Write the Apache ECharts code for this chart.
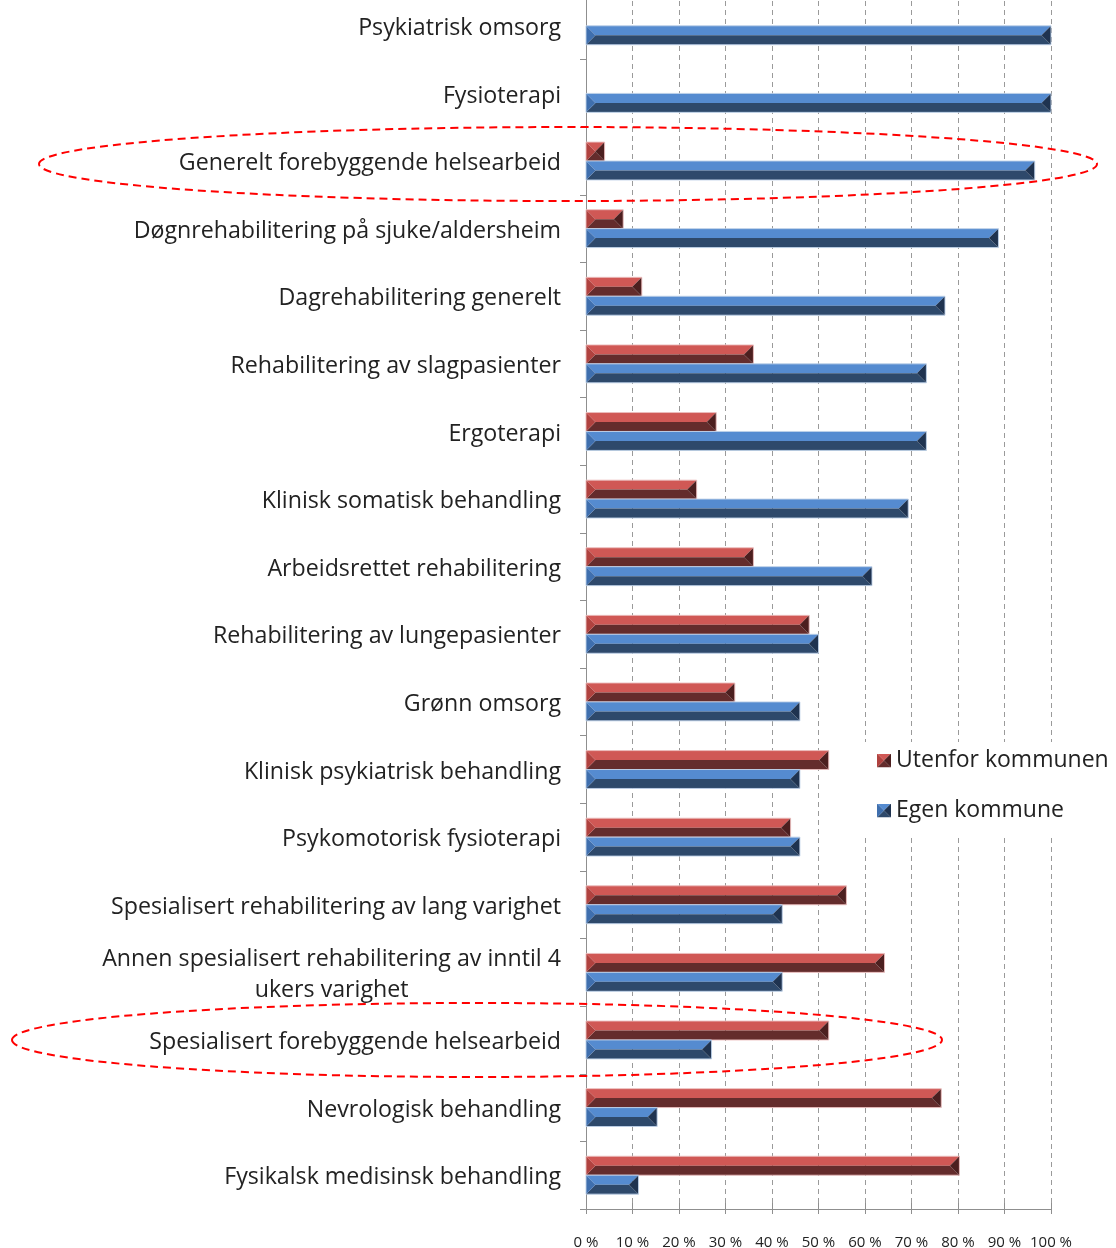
<!DOCTYPE html>
<html><head><meta charset="utf-8">
<script src="https://cdn.jsdelivr.net/npm/echarts@6/dist/echarts.min.js"></script>
<style>html,body{margin:0;padding:0;background:#fff}#c{width:1116px;height:1248px}</style>
</head><body><div id="c"></div>
<script>
const categories = [
  'Psykiatrisk omsorg',
  'Fysioterapi',
  'Generelt forebyggende helsearbeid',
  'Døgnrehabilitering på sjuke/aldersheim',
  'Dagrehabilitering generelt',
  'Rehabilitering av slagpasienter',
  'Ergoterapi',
  'Klinisk somatisk behandling',
  'Arbeidsrettet rehabilitering',
  'Rehabilitering av lungepasienter',
  'Grønn omsorg',
  'Klinisk psykiatrisk behandling',
  'Psykomotorisk fysioterapi',
  'Spesialisert rehabilitering av lang varighet',
  'Annen spesialisert rehabilitering av inntil 4\nukers varighet',
  'Spesialisert forebyggende helsearbeid',
  'Nevrologisk behandling',
  'Fysikalsk medisinsk behandling'
];
const seriesNames = ['Utenfor kommunen', 'Egen kommune'];
const utenfor = [0, 0, 4, 8, 12, 36, 28, 23.8, 36, 48, 32, 52.2, 44, 56, 64.2, 52.2, 76.4, 80.3];
const egen = [100, 100, 96.5, 88.7, 77.2, 73.2, 73.2, 69.3, 61.5, 50, 46, 46, 46, 42.2, 42.2, 27, 15.3, 11.3];
const xTickValues = [0, 10, 20, 30, 40, 50, 60, 70, 80, 90, 100];
const highlighted = ['Generelt forebyggende helsearbeid', 'Spesialisert forebyggende helsearbeid'];

const FONT = 'Open Sans';
const palRed = {top:'#D05855', bottom:'#642C2C', left:'#B0423F', right:'#4C1F1F', edge:'rgba(235,190,190,0.9)'};
const palBlue = {top:'#558BD0', bottom:'#2E496B', left:'#3F6FAE', right:'#1F3350', edge:'rgba(190,208,232,0.9)'};

function iconSvg(p) {
  const s = "<svg xmlns='http://www.w3.org/2000/svg' width='14' height='14'>" +
    "<polygon points='0,0 14,0 7,7' fill='" + p.top + "'/>" +
    "<polygon points='0,14 14,14 7,7' fill='" + p.bottom + "'/>" +
    "<polygon points='0,0 7,7 0,14' fill='" + p.left + "'/>" +
    "<polygon points='14,0 14,14 7,7' fill='" + p.right + "'/></svg>";
  return 'image://data:image/svg+xml;charset=utf-8,' + encodeURIComponent(s);
}

function bevelRenderer(slot, pal) {
  return function (params, api) {
    const v = api.value(0), ci = api.value(1);
    if (!v) return;
    const p0 = api.coord([0, ci]), p1 = api.coord([v, ci]);
    const band = api.size([0, 1])[1];
    const h = band * 0.28;
    const y0 = p0[1] + (slot - 1) * h, y1 = y0 + h, ym = y0 + h / 2;
    const x0 = p0[0], x1 = p1[0];
    const b = Math.min(h / 2, (x1 - x0) / 2);
    return {type: 'group', children: [
      {type: 'polygon', shape: {points: [[x0, y0], [x1, y0], [x1 - b, ym], [x0 + b, ym]]}, style: {fill: pal.top}},
      {type: 'polygon', shape: {points: [[x0 + b, ym], [x1 - b, ym], [x1, y1], [x0, y1]]}, style: {fill: pal.bottom}},
      {type: 'polygon', shape: {points: [[x0, y0], [x0 + b, ym], [x0, y1]]}, style: {fill: pal.left}},
      {type: 'polygon', shape: {points: [[x1, y0], [x1, y1], [x1 - b, ym]]}, style: {fill: pal.right}},
      {type: 'rect', shape: {x: x0, y: y0, width: x1 - x0, height: h}, style: {fill: 'none', stroke: pal.edge, lineWidth: 1}}
    ]};
  };
}

const chart = echarts.init(document.getElementById('c'), null, {renderer: 'canvas'});
const axisGray = '#8f8f8f';
const option = {
  backgroundColor: '#fff',
  animation: false,
  textStyle: {fontFamily: FONT},
  grid: {left: 586, right: 65, top: -8, bottom: 39, containLabel: false, outerBoundsMode: 'none'},
  legend: {
    orient: 'vertical', left: 862, top: 742,
    padding: [7, 4, 12, 15], itemGap: 27, itemWidth: 14, itemHeight: 14,
    backgroundColor: '#fff',
    textStyle: {fontSize: 23, color: '#222', fontFamily: FONT},
    data: [
      {name: seriesNames[0], icon: iconSvg(palRed)},
      {name: seriesNames[1], icon: iconSvg(palBlue)}
    ]
  },
  xAxis: [{
    type: 'value', min: xTickValues[0], max: xTickValues[xTickValues.length - 1], interval: xTickValues[1] - xTickValues[0],
    axisLine: {show: true, lineStyle: {color: axisGray}},
    axisTick: {show: true, length: 5, lineStyle: {color: axisGray}},
    axisLabel: {margin: 26, fontSize: 15, color: '#222', fontFamily: FONT, formatter: v => v + ' %'},
    splitLine: {show: true, lineStyle: {color: '#9a9a9a', type: [5, 4], width: 1}}
  }, {
    type: 'value', position: 'bottom', min: xTickValues[0], max: xTickValues[xTickValues.length - 1], interval: xTickValues[1] - xTickValues[0],
    axisLine: {show: false}, axisTick: {show: true, inside: true, length: 6, lineStyle: {color: axisGray}},
    axisLabel: {show: false}, splitLine: {show: false}
  }],
  yAxis: {
    type: 'category', inverse: true, data: categories,
    axisLine: {show: true, lineStyle: {color: axisGray}},
    axisTick: {show: true, length: 6, lineStyle: {color: axisGray}},
    axisLabel: {
      margin: 25, fontSize: 23.2, color: '#222', fontFamily: FONT, lineHeight: 31, padding: [5, 0, 0, 0],
      formatter: v => v.indexOf('\n') >= 0 ? v.split('\n').map(s => '{c|' + s + '}').join('\n') : v,
      rich: {c: {align: 'center', fontSize: 23.2, color: '#222', fontFamily: FONT, lineHeight: 31}}
    },
    splitLine: {show: false}
  },
  series: [
    {name: seriesNames[0], type: 'custom', itemStyle: {color: palRed.top}, encode: {x: 0, y: 1},
     renderItem: bevelRenderer(0, palRed), data: utenfor.map((v, i) => [v, i]), z: 2},
    {name: seriesNames[1], type: 'custom', itemStyle: {color: palBlue.top}, encode: {x: 0, y: 1},
     renderItem: bevelRenderer(1, palBlue), data: egen.map((v, i) => [v, i]), z: 2}
  ]
};
chart.setOption(option);

// dashed ellipses around highlighted categories
const ellipseSpec = [
  {cat: highlighted[0], cx: 568, rx: 529, ry: 37, dy: 3},
  {cat: highlighted[1], cx: 477, rx: 465, ry: 37, dy: 0}
];
const graphics = ellipseSpec.map(e => {
  const cy = chart.convertToPixel({yAxisIndex: 0}, categories.indexOf(e.cat)) + e.dy;
  return {type: 'ellipse', shape: {cx: e.cx, cy: cy, rx: e.rx, ry: e.ry}, z: 10,
    style: {fill: 'none', stroke: '#ff0000', lineWidth: 2, lineDash: [8, 5]}};
});
chart.setOption({graphic: graphics});
</script></body></html>
